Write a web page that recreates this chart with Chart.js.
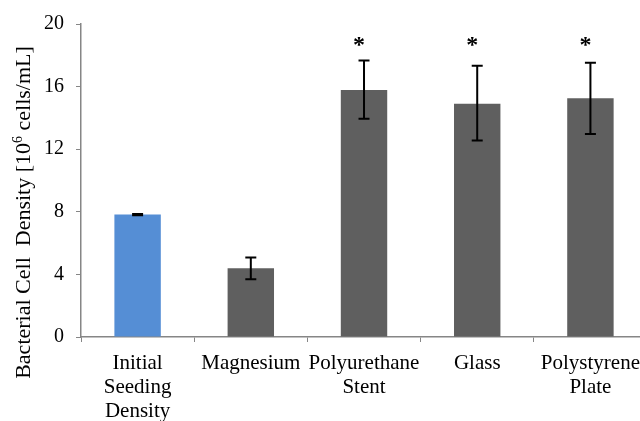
<!DOCTYPE html>
<html>
<head>
<meta charset="utf-8">
<script src="https://cdn.jsdelivr.net/npm/chart.js@4"></script>
<style>
  html, body { margin: 0; padding: 0; background: #fff; overflow: hidden; }
  #wrap { width: 650px; height: 421px; }
</style>
</head>
<body>
<div id="wrap"><canvas id="cellChart" width="650" height="421"></canvas></div>
<script>
const categories = [
  ["Initial", "Seeding", "Density"],
  "Magnesium",
  ["Polyurethane", "Stent"],
  "Glass",
  ["Polystyrene", "Plate"]
];
const density = [7.82, 4.39, 15.78, 14.90, 15.25];
const errLow = [7.78, 3.69, 13.94, 12.55, 12.97];
const errHigh = [7.86, 5.08, 17.66, 17.34, 17.53];
const sigMarks = ["", "", "*", "*", "*"];
const sigLevel = 19.0;
const barColors = ["#558ed5", "#5f5f5f", "#5f5f5f", "#5f5f5f", "#5f5f5f"];
const yTicks = [0, 4, 8, 12, 16, 20];
const yTitle = ["Bacterial Cell  Density [10", "6", " cells/mL]"];

const serif = "'Liberation Serif', 'Times New Roman', serif";

const errorBars = {
  id: "errorBars",
  afterDatasetsDraw(chart) {
    const ctx = chart.ctx;
    const y = chart.scales.y;
    const meta = chart.getDatasetMeta(0);
    ctx.save();
    ctx.strokeStyle = "#000";
    ctx.lineWidth = 2;
    meta.data.forEach((bar, i) => {
      const x = bar.x;
      const top = y.getPixelForValue(errHigh[i]);
      const bot = y.getPixelForValue(errLow[i]);
      ctx.beginPath();
      ctx.moveTo(x, top);
      ctx.lineTo(x, bot);
      ctx.moveTo(x - 5.5, top);
      ctx.lineTo(x + 5.5, top);
      ctx.moveTo(x - 5.5, bot);
      ctx.lineTo(x + 5.5, bot);
      ctx.stroke();
      if (sigMarks[i]) {
        ctx.fillStyle = "#000";
        ctx.font = "bold 24px " + serif;
        ctx.textAlign = "center";
        ctx.textBaseline = "alphabetic";
        ctx.fillText(sigMarks[i], x - 5, y.getPixelForValue(sigLevel) + 12);
      }
    });
    ctx.restore();
  }
};

// y title with a real superscript, drawn beside the axis
const yTitlePlugin = {
  id: "yTitle",
  afterDraw(chart) {
    const ctx = chart.ctx;
    const area = chart.chartArea;
    ctx.save();
    ctx.translate(30, area.top + (area.bottom - area.top) / 2 + 32);
    ctx.rotate(-Math.PI / 2);
    ctx.fillStyle = "#000";
    ctx.textBaseline = "alphabetic";
    ctx.textAlign = "left";
    const big = "22px " + serif;
    const small = "14px " + serif;
    ctx.font = big;
    const w0 = ctx.measureText(yTitle[0]).width;
    const w2 = ctx.measureText(yTitle[2]).width;
    ctx.font = small;
    const w1 = ctx.measureText(yTitle[1]).width;
    let x = -(w0 + w1 + w2) / 2;
    ctx.font = big;
    ctx.fillText(yTitle[0], x, 0);
    x += w0;
    ctx.font = small;
    ctx.fillText(yTitle[1], x, -8);
    x += w1;
    ctx.font = big;
    ctx.fillText(yTitle[2], x, 0);
    ctx.restore();
  }
};

new Chart(document.getElementById("cellChart").getContext("2d"), {
  type: "bar",
  data: {
    labels: categories,
    datasets: [
      {
        data: density,
        backgroundColor: barColors,
        borderWidth: 0,
        categoryPercentage: 1,
        barPercentage: 0.41
      }
    ]
  },
  options: {
    responsive: false,
    animation: false,
    layout: { padding: { top: 21, right: 0, left: 0, bottom: 0 } },
    plugins: {
      legend: { display: false },
      tooltip: { enabled: false }
    },
    scales: {
      x: {
        grid: {
          drawOnChartArea: false,
          drawTicks: true,
          tickLength: 5,
          color: "#868686",
          offset: true
        },
        border: { color: "#868686", width: 1.5 },
        ticks: {
          color: "#000",
          font: { family: serif, size: 21, lineHeight: 1.14 },
          maxRotation: 0,
          autoSkip: false,
          padding: 10
        },
        afterFit(scale) { scale.height = 84; }
      },
      y: {
        min: 0,
        max: 20,
        afterBuildTicks(scale) { scale.ticks = yTicks.map(v => ({ value: v })); },
        grid: {
          drawOnChartArea: false,
          drawTicks: true,
          tickLength: 5,
          color: "#868686"
        },
        border: { color: "#868686", width: 1.5 },
        ticks: {
          color: "#000",
          font: { family: serif, size: 20 },
          padding: 12
        },
        afterFit(scale) { scale.width = 81; }
      }
    }
  },
  plugins: [errorBars, yTitlePlugin]
});
</script>
</body>
</html>
